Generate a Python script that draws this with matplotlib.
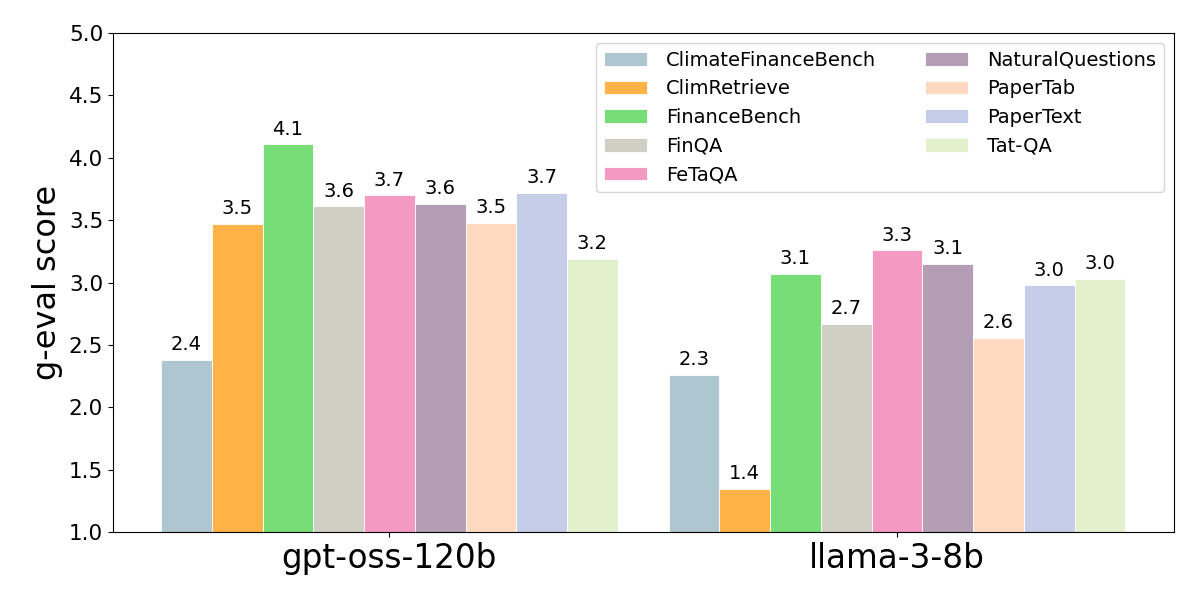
import numpy as np
import matplotlib
matplotlib.use('Agg')
import matplotlib.pyplot as plt

# ── Data ──────────────────────────────────────────────────────────────────────
models = ['gpt-oss-120b', 'llama-3-8b']
datasets = ['ClimateFinanceBench', 'ClimRetrieve', 'FinanceBench', 'FinQA', 'FeTaQA',
            'NaturalQuestions', 'PaperTab', 'PaperText', 'Tat-QA']
gpt_scores = [2.38, 3.47, 4.11, 3.61, 3.70, 3.63, 3.48, 3.72, 3.19]
llama_scores = [2.26, 1.35, 3.07, 2.67, 3.26, 3.15, 2.56, 2.98, 3.03]
colors = ['#AEC6CF', '#FFB347', '#77DD77', '#CFCFC4', '#F49AC2',
          '#B39EB5', '#FFDAC1', '#C6CDE8', '#E2F0CB']

# ── Plot ──────────────────────────────────────────────────────────────────────
fig, ax = plt.subplots(figsize=(12, 6), dpi=100)
fig.subplots_adjust(left=0.094, right=0.978, top=0.945, bottom=0.113)

x = np.arange(len(models))
width = 0.1
n = len(datasets)
for i, (name, col) in enumerate(zip(datasets, colors)):
    vals = [gpt_scores[i], llama_scores[i]]
    offs = x + (i - (n - 1) / 2) * width
    bars = ax.bar(offs, vals, width, label=name, color=col,
                  edgecolor='white', linewidth=0.6)
    ax.bar_label(bars, labels=[f'{v:.1f}' for v in vals], padding=4, fontsize=14)

ax.set_ylim(1.0, 5.0)
ax.set_yticks(np.arange(1.0, 5.01, 0.5))
ax.set_xticks(x)
ax.set_xticklabels(models, fontsize=23.5)
ax.tick_params(axis='y', labelsize=15.5)
ax.set_ylabel('g-eval score', fontsize=23)

ax.legend(loc='upper right', ncol=2, fontsize=14, columnspacing=2.5,
          handlelength=2.2, handletextpad=1.0, borderaxespad=0.5,
          labelspacing=0.5)

plt.savefig('out.png', dpi=100)
